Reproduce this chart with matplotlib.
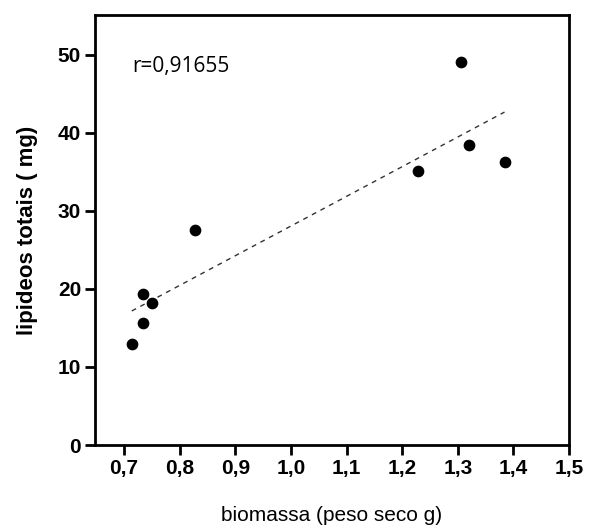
import numpy as np
import matplotlib
matplotlib.use("Agg")
import matplotlib.pyplot as plt
from matplotlib.ticker import FixedLocator

biomassa = [0.714, 0.734, 0.734, 0.751, 0.827, 1.229, 1.305, 1.321, 1.384]
lipideos = [12.9, 15.6, 19.3, 18.2, 27.5, 35.1, 49.1, 38.4, 36.3]
xticks = [0.7, 0.8, 0.9, 1.0, 1.1, 1.2, 1.3, 1.4, 1.5]
xticklabels = ["0,7", "0,8", "0,9", "1,0", "1,1", "1,2", "1,3", "1,4", "1,5"]
yticks = [0, 10, 20, 30, 40, 50]
r_text = "r=0,91655"

narrow = ["Liberation Sans Narrow", "Liberation Sans", "DejaVu Sans"]

fig = plt.figure(figsize=(5.94, 5.32), dpi=100)
ax = fig.add_axes([0.160, 0.1635, 0.798, 0.8085])

x = np.array(biomassa)
y = np.array(lipideos)
ax.scatter(x, y, s=55, color="black", zorder=3)

m, b = np.polyfit(x, y, 1)
xl = np.array([x.min(), x.max()])
ax.plot(xl, m * xl + b, linestyle=(0, (3.5, 3.5)), color="#333333", linewidth=1.0)

ax.set_xlim(0.648, 1.5)
ax.set_ylim(0, 55.1)
ax.xaxis.set_major_locator(FixedLocator(xticks))
ax.set_xticklabels(xticklabels)
ax.set_yticks(yticks)

for sp in ax.spines.values():
    sp.set_linewidth(2)
ax.tick_params(axis="both", direction="out", length=7, width=2, pad=3)
for lab in ax.get_xticklabels() + ax.get_yticklabels():
    lab.set_fontfamily(narrow)
    lab.set_fontsize(15)
    lab.set_fontweight("bold")

ax.set_xlabel("biomassa (peso seco g)", fontsize=15, family=narrow, labelpad=20)
ax.set_ylabel("lipideos totais ( mg)", fontsize=16, family=narrow, fontweight="bold", labelpad=14)

ax.text(0.078, 0.879, r_text, transform=ax.transAxes, fontsize=15, family=["Open Sans", "DejaVu Sans"],
        va="center", ha="left")

fig.savefig("out.png", dpi=100)
